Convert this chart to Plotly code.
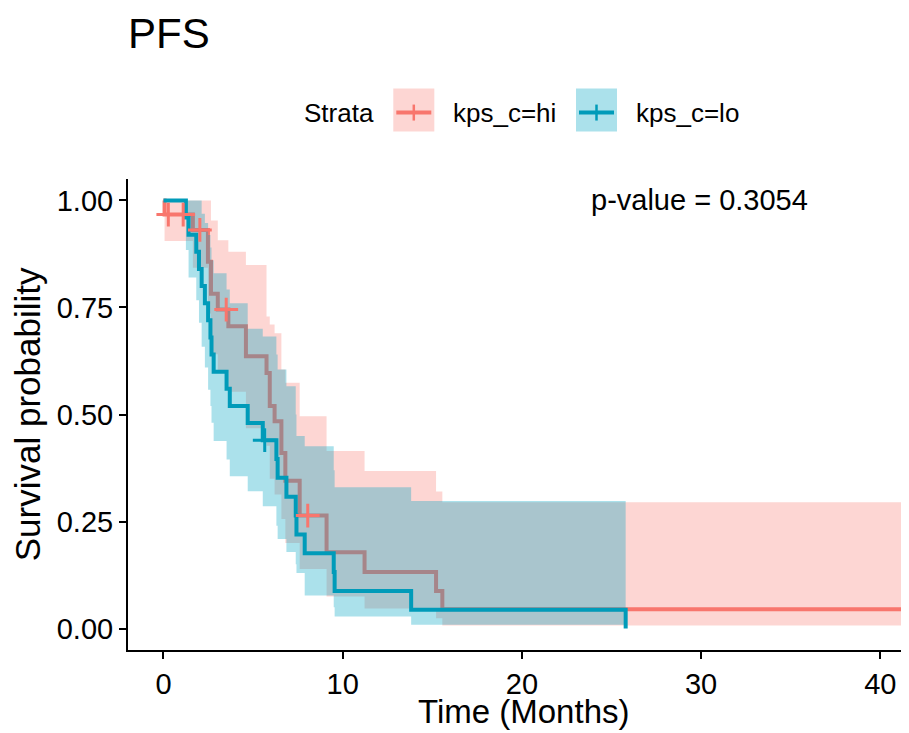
import plotly.graph_objects as go

# Kaplan-Meier estimates (time in months)
hi_time = [0, 0.06, 1.64, 2.48, 2.65, 3.03, 3.62, 4.60, 5.75, 5.93, 6.20, 6.58, 6.80,
           7.60, 9.10, 11.22, 15.21, 15.56, 42.0]
hi_surv = [1.0, 0.967, 0.931, 0.857, 0.782, 0.745, 0.706, 0.636, 0.597, 0.520, 0.484,
           0.410, 0.345, 0.264, 0.178, 0.132, 0.088, 0.045, 0.045]
hi_upper = [1.0, 1.0, 1.0, 1.0, 0.953, 0.907, 0.880, 0.849, 0.729, 0.710, 0.690, 0.605,
            0.574, 0.496, 0.415, 0.368, 0.320, 0.295, 0.295]
hi_lower = [1.0, 0.905, 0.843, 0.736, 0.641, 0.598, 0.553, 0.468, 0.427, 0.350, 0.313,
            0.256, 0.200, 0.139, 0.075, 0.047, 0.024, 0.007, 0.007]
hi_cens_time = [0.27, 1.10, 2.03, 3.50, 8.05]
hi_cens_surv = [0.967, 0.967, 0.931, 0.745, 0.264]

lo_time = [0, 1.25, 1.40, 1.83, 1.98, 2.13, 2.31, 2.49, 2.62, 2.68, 2.80, 3.52, 3.70,
           4.70, 5.54, 6.30, 6.37, 6.86, 7.38, 7.42, 7.88, 9.50, 9.55, 13.82, 25.79]
lo_surv = [1.0, 0.96, 0.92, 0.88, 0.84, 0.80, 0.76, 0.72, 0.68, 0.64, 0.60, 0.56, 0.52,
           0.48, 0.44, 0.396, 0.352, 0.308, 0.264, 0.220, 0.176, 0.132, 0.088, 0.044, 0.0]
lo_upper = [1.0, 1.0, 1.0, 1.0, 1.0, 0.969, 0.947, 0.919, 0.890, 0.860, 0.830, 0.792,
            0.760, 0.700, 0.682, 0.640, 0.605, 0.566, 0.500, 0.450, 0.426, 0.370, 0.330,
            0.298, 0.298]
lo_lower = [1.0, 0.884, 0.820, 0.767, 0.714, 0.658, 0.610, 0.558, 0.520, 0.481, 0.438,
            0.395, 0.356, 0.321, 0.286, 0.240, 0.209, 0.179, 0.150, 0.130, 0.077, 0.050,
            0.028, 0.009, 0.009]
lo_cens_time = [5.65]
lo_cens_surv = [0.44]

strata = ["kps_c=hi", "kps_c=lo"]
p_value = 0.3054

RED = "#F8766D"
TEAL = "#009BB9"
RED_FILL = "rgba(248,118,109,0.3)"
TEAL_FILL = "rgba(0,165,194,0.33)"
FONT = "Liberation Sans, Arial, sans-serif"

# the page body adds an 8px margin, so the figure is drawn 8px in from the corner
PAGE = 8
W, H = 909 - PAGE, 733 - PAGE
L, R, T, B = 128 - PAGE, 0, 178.5 - PAGE, 83


def px(x):
    # screen x pixel -> paper coordinate
    return (x - PAGE - L) / (W - L - R)


def py(y):
    # screen y pixel -> paper coordinate
    return (H - B - (y - PAGE)) / (H - B - T)


fig = go.Figure()


def add_group(time, surv, upper, lower, line_color, fill_color):
    fig.add_trace(go.Scatter(x=time, y=upper, mode="lines", line=dict(width=0, shape="hv"),
                             showlegend=False, hoverinfo="skip"))
    fig.add_trace(go.Scatter(x=time, y=lower, mode="lines", line=dict(width=0, shape="hv"),
                             fill="tonexty", fillcolor=fill_color, showlegend=False,
                             hoverinfo="skip"))
    fig.add_trace(go.Scatter(x=time, y=surv, mode="lines",
                             line=dict(color=line_color, width=4, shape="hv"),
                             showlegend=False))


add_group(hi_time, hi_surv, hi_upper, hi_lower, RED, RED_FILL)
add_group(lo_time, lo_surv, lo_upper, lo_lower, TEAL, TEAL_FILL)

for t, s, c in [(hi_cens_time, hi_cens_surv, RED), (lo_cens_time, lo_cens_surv, TEAL)]:
    fig.add_trace(go.Scatter(x=t, y=s, mode="markers", showlegend=False,
                             marker=dict(symbol="cross-thin", size=17, color=c,
                                         line=dict(color=c, width=3))))

# legend drawn by hand, ggplot style
shapes = []
annotations = []
for (x0, color, fill, label) in [(393.3, RED, RED_FILL, strata[0]),
                                 (576, TEAL, TEAL_FILL, strata[1])]:
    shapes.append(dict(type="rect", xref="paper", yref="paper",
                       x0=px(x0), x1=px(x0 + 41), y0=py(131), y1=py(88),
                       fillcolor=fill, line=dict(width=0), layer="above"))
    shapes.append(dict(type="line", xref="paper", yref="paper",
                       x0=px(x0 + 3), x1=px(x0 + 38), y0=py(112), y1=py(112),
                       line=dict(color=color, width=4)))
    shapes.append(dict(type="line", xref="paper", yref="paper",
                       x0=px(x0 + 20.5), x1=px(x0 + 20.5), y0=py(104), y1=py(120),
                       line=dict(color=color, width=2.5)))
    annotations.append(dict(text=label, xref="paper", yref="paper", x=px(x0 + 58),
                            y=py(112), xanchor="left", yanchor="middle", showarrow=False,
                            font=dict(size=26, color="black", family=FONT)))

annotations += [
    dict(text="Strata", xref="paper", yref="paper", x=px(376), y=py(112),
         xanchor="right", yanchor="middle", showarrow=False,
         font=dict(size=26, color="black", family=FONT)),
    dict(text="PFS", xref="paper", yref="paper", x=px(126), y=py(33),
         xanchor="left", yanchor="middle", showarrow=False,
         font=dict(size=42, color="black", family=FONT)),
    dict(text=f"p-value = {p_value}", x=23.75, y=1.0, xanchor="left", yanchor="middle",
         showarrow=False, font=dict(size=29, color="black", family=FONT)),
    dict(text="Survival probability", xref="paper", yref="paper", x=px(27), y=py(414),
         xanchor="center", yanchor="middle", textangle=-90, showarrow=False,
         font=dict(size=35, color="black", family=FONT)),
    dict(text="Time (Months)", xref="paper", yref="paper", x=px(523), y=py(712),
         xanchor="center", yanchor="middle", showarrow=False,
         font=dict(size=33, color="black", family=FONT)),
]

fig.update_layout(
    width=W, height=H,
    margin=dict(l=L, r=R, t=T, b=B, autoexpand=False),
    plot_bgcolor="white", paper_bgcolor="white",
    font=dict(family=FONT, color="black"),
    shapes=shapes, annotations=annotations,
    showlegend=False,
)
fig.update_xaxes(range=[-1.98, 41.6], tickvals=[0, 10, 20, 30, 40], showgrid=False,
                 zeroline=False, showline=True, linecolor="black", linewidth=2,
                 ticks="outside", ticklen=7, tickwidth=2, tickcolor="black",
                 automargin=False,
                 tickfont=dict(size=29, color="black", family=FONT))
fig.update_yaxes(range=[-0.05, 1.05], tickvals=[0, 0.25, 0.5, 0.75, 1.0],
                 ticktext=["0.00", "0.25", "0.50", "0.75", "1.00"], showgrid=False,
                 zeroline=False, showline=True, linecolor="black", linewidth=2,
                 ticks="outside", ticklen=7, tickwidth=2, tickcolor="black",
                 automargin=False,
                 tickfont=dict(size=29, color="black", family=FONT))

fig.write_html("out.html")
